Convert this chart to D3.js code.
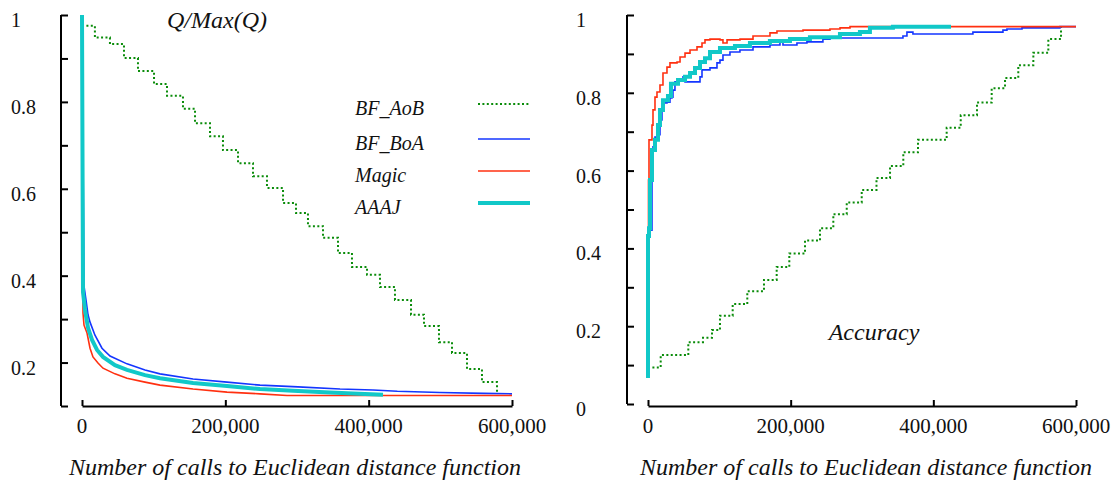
<!DOCTYPE html>
<html>
<head>
<meta charset="utf-8">
<script src="https://cdn.jsdelivr.net/npm/d3@7/dist/d3.min.js"></script>
<style>
  html, body { margin: 0; padding: 0; background: #fff; }
  svg { display: block; }
</style>
</head>
<body>
<svg id="chart" width="1119" height="484"></svg>
<script>
// ---- data -------------------------------------------------------------
const seriesNames = ["BF_AoB", "BF_BoA", "Magic", "AAAJ"];

const xTicks = [0, 200000, 400000, 600000];
const xTickLabels = ["0", "200,000", "400,000", "600,000"];

const qTicks = [1, 0.9, 0.8, 0.7, 0.6, 0.5, 0.4, 0.3, 0.2, 0.1];
const qTickLabels = ["1", "", "0.8", "", "0.6", "", "0.4", "", "0.2", ""];

const accTicks = [0, 0.1, 0.2, 0.3, 0.4, 0.5, 0.6, 0.7, 0.8, 0.9, 1];
const accTickLabels = ["0", "", "0.2", "", "0.4", "", "0.6", "", "0.8", "", "1"];

// Q / Max(Q) against number of distance calls (staircase for BF_AoB)
const qAoB = [
  [0, 0.975], [18000, 0.948], [39000, 0.933], [58600, 0.901], [78100, 0.871],
  [100500, 0.841], [118600, 0.814], [140900, 0.784], [157700, 0.751], [178600, 0.721],
  [196700, 0.689], [217700, 0.659], [238600, 0.629], [258100, 0.602], [280500, 0.567],
  [298600, 0.544], [315300, 0.514], [336300, 0.487], [357200, 0.452], [376700, 0.420],
  [397700, 0.402], [415800, 0.374], [436700, 0.344], [459100, 0.310], [477200, 0.284],
  [498100, 0.247], [516300, 0.222], [537200, 0.185], [558100, 0.155], [579100, 0.130]
];
const qBoA = [
  [0, 1], [2800, 0.376], [5600, 0.344], [8400, 0.310], [11200, 0.293], [18100, 0.263],
  [27900, 0.233], [39100, 0.215], [62800, 0.197], [87900, 0.183], [108800, 0.174],
  [154900, 0.162], [202300, 0.155], [248400, 0.148], [301400, 0.144], [360000, 0.139],
  [406000, 0.137], [440000, 0.134], [499500, 0.131], [560000, 0.129], [600000, 0.128]
];
const qMagic = [
  [0, 1], [1400, 0.314], [2800, 0.286], [7000, 0.268], [11200, 0.233], [15300, 0.213],
  [22300, 0.199], [29300, 0.187], [46000, 0.174], [62800, 0.164], [87900, 0.155],
  [108800, 0.148], [154900, 0.139], [202300, 0.132], [248400, 0.128], [286000, 0.124],
  [600000, 0.124]
];
const qAAAJ = [
  [0, 1], [1400, 0.362], [4200, 0.321], [8400, 0.280], [14000, 0.252], [21000, 0.229],
  [29300, 0.213], [46000, 0.194], [62800, 0.183], [87900, 0.171], [108800, 0.164],
  [154900, 0.153], [202300, 0.146], [248400, 0.139], [294400, 0.135], [346000, 0.131],
  [378100, 0.129], [420000, 0.126]
];

// Accuracy against number of distance calls
const accAoB = [
  [0, 0.094], [17800, 0.126], [56500, 0.159], [77100, 0.170], [89700, 0.190],
  [100900, 0.227], [118700, 0.257], [139200, 0.290], [162600, 0.319], [180400, 0.352],
  [198100, 0.387], [220100, 0.420], [241100, 0.452], [259800, 0.488], [278600, 0.518],
  [299600, 0.550], [320300, 0.581], [339300, 0.612], [357900, 0.647], [378500, 0.679],
  [418700, 0.710], [438400, 0.742], [461200, 0.775], [481800, 0.812], [500500, 0.838],
  [519100, 0.871], [540200, 0.903], [561200, 0.938], [579000, 0.969]
];
const accBoA = [
  [0, 0.067], [0, 0.432], [2800, 0.447], [5600, 0.550], [5600, 0.653], [7000, 0.661],
  [9800, 0.686], [14000, 0.692], [16800, 0.730], [19600, 0.774], [26600, 0.776],
  [30800, 0.787], [33600, 0.789], [35000, 0.807], [37800, 0.828], [42100, 0.833],
  [49100, 0.841], [51900, 0.828], [68700, 0.828], [72900, 0.841], [75700, 0.859],
  [86900, 0.864], [96700, 0.877], [100900, 0.884], [105100, 0.897], [114900, 0.905],
  [128900, 0.910], [147200, 0.918], [171000, 0.923], [185000, 0.931], [189200, 0.923],
  [208800, 0.928], [222800, 0.931], [245200, 0.938], [255100, 0.941], [297100, 0.941],
  [357400, 0.946], [363000, 0.956], [370000, 0.956], [371400, 0.951], [448500, 0.951],
  [455500, 0.956], [497600, 0.961], [503200, 0.964], [524300, 0.967], [538300, 0.967],
  [577500, 0.970], [600000, 0.970]
];
const accMagic = [
  [0, 0.067], [0, 0.440], [700, 0.576], [1400, 0.679], [5600, 0.717], [7000, 0.756],
  [9800, 0.789], [12600, 0.802], [16800, 0.820], [21000, 0.851], [26600, 0.866],
  [30800, 0.877], [40700, 0.879], [44900, 0.892], [51900, 0.902], [58900, 0.910],
  [68700, 0.918], [75700, 0.928], [79900, 0.936], [86900, 0.938], [100900, 0.936],
  [105100, 0.928], [110800, 0.936], [129000, 0.938], [147200, 0.946], [171000, 0.954],
  [180800, 0.959], [217300, 0.961], [255100, 0.964], [269200, 0.967], [283200, 0.970],
  [600000, 0.970]
];
const accAAAJ = [
  [0, 0.067], [0, 0.432], [1400, 0.452], [2800, 0.576], [5600, 0.653], [9800, 0.679],
  [14000, 0.717], [16800, 0.756], [21000, 0.781], [28000, 0.792], [32200, 0.823],
  [42100, 0.833], [51900, 0.841], [58900, 0.851], [65900, 0.864], [72900, 0.879],
  [79900, 0.889], [86900, 0.905], [100900, 0.915], [121900, 0.920], [142900, 0.928],
  [170900, 0.933], [199000, 0.938], [227000, 0.943], [269100, 0.951], [297100, 0.956],
  [311100, 0.967], [343300, 0.970], [424800, 0.970]
];

// ---- styles -------------------------------------------------------------
const SERIF = '"Liberation Serif"';
const seriesStyle = {
  "BF_AoB": { color: "#0a8c0a", width: 2,   dash: "2,2.4" },
  "BF_BoA": { color: "#1436ff", width: 1.6, dash: null },
  "Magic":  { color: "#ff3010", width: 1.6, dash: null },
  "AAAJ":   { color: "#11c8c8", width: 4,   dash: null }
};

const svg = d3.select("#chart");
const FONT_YTICK = 20;
const FONT_XTICK = 21;
const FONT_TITLE = 24;

function label(sel) {
  return sel.attr("font-family", "Liberation Serif").style("font-family", SERIF).attr("fill", "#111");
}

function drawPanel(cfg) {
  const x = d3.scaleLinear().domain([0, 600000]).range(cfg.xRange);
  const y = d3.scaleLinear().domain(cfg.yDomain).range(cfg.yRange);
  const g = svg.append("g");

  // y axis: line with inward ticks, labels set off to the left
  const yAxis = d3.axisLeft(y).tickValues(cfg.yTicks).tickSizeInner(-7).tickSizeOuter(0).tickFormat("");
  const ya = g.append("g").attr("transform", `translate(${cfg.yAxisX},0)`).call(yAxis);
  ya.select(".domain").attr("stroke", "#000").attr("stroke-width", 2)
    .attr("d", `M0,${cfg.yRange[1]}V${cfg.yRange[0]}`);
  ya.selectAll(".tick line").attr("stroke", "#000").attr("stroke-width", 2);

  label(g.selectAll(".ylab").data(cfg.yTicks.map((t, i) => [t, cfg.yLabels[i]]).filter(d => d[1] !== ""))
    .enter().append("text")
    .attr("x", cfg.yLabelX).attr("y", d => y(d[0]) + 12)
    .attr("font-size", FONT_YTICK).attr("text-anchor", "start")
    .text(d => d[1]));

  // x axis: detached line with upward ticks
  const xAxis = d3.axisBottom(x).tickValues(xTicks).tickSizeInner(-6).tickSizeOuter(0).tickFormat("");
  const xa = g.append("g").attr("transform", `translate(0,${cfg.xAxisY})`).call(xAxis);
  xa.select(".domain").attr("stroke", "#000").attr("stroke-width", 2);
  xa.selectAll(".tick line").attr("stroke", "#000").attr("stroke-width", 2);

  label(g.selectAll(".xlab").data(xTicks.map((t, i) => [t, xTickLabels[i]]))
    .enter().append("text")
    .attr("x", d => x(d[0])).attr("y", cfg.xAxisY + 27)
    .attr("font-size", FONT_XTICK).attr("text-anchor", "middle")
    .text(d => d[1]));

  // axis caption
  label(g.append("text")
    .attr("x", (cfg.xRange[0] + cfg.xRange[1]) / 2 + cfg.captionShift).attr("y", 475)
    .attr("font-size", 24).attr("font-style", "italic").attr("text-anchor", "middle")
    .text("Number of calls to Euclidean distance function"));

  // panel title
  label(g.append("text")
    .attr("x", cfg.titleX).attr("y", cfg.titleY)
    .attr("font-size", FONT_TITLE).attr("font-style", "italic").attr("text-anchor", "middle")
    .text(cfg.title));

  // series
  seriesNames.forEach((name, i) => {
    const st = seriesStyle[name];
    const stepped = name === "BF_AoB" || cfg.stepAll;
    const line = d3.line().x(d => x(d[0])).y(d => y(d[1]))
      .curve(stepped ? d3.curveStepAfter : d3.curveLinear);
    g.append("path").datum(cfg.series[i])
      .attr("fill", "none").attr("stroke", st.color).attr("stroke-width", st.width)
      .attr("stroke-dasharray", st.dash).attr("stroke-linejoin", "miter")
      .attr("d", line);
  });
}

drawPanel({
  xRange: [82, 512], yDomain: [0.1, 1], yRange: [406, 15],
  yAxisX: 61, yLabelX: 11, xAxisY: 406,
  yTicks: qTicks, yLabels: qTickLabels,
  title: "Q/Max(Q)", titleX: 217, titleY: 28, captionShift: -2, stepAll: false,
  series: [qAoB, qBoA, qMagic, qAAAJ]
});

drawPanel({
  xRange: [648, 1076], yDomain: [0, 1], yRange: [404, 15],
  yAxisX: 627, yLabelX: 576, xAxisY: 406,
  yTicks: accTicks, yLabels: accTickLabels,
  title: "Accuracy", titleX: 874, titleY: 340, captionShift: 4, stepAll: true,
  series: [accAoB, accBoA, accMagic, accAAAJ]
});

// legend
const legendY = [104, 139, 171, 203];
const legend = svg.append("g");
seriesNames.forEach((name, i) => {
  const st = seriesStyle[name];
  label(legend.append("text")
    .attr("x", 355).attr("y", legendY[i] + 11)
    .attr("font-size", 20).attr("font-style", "italic")
    .text(name));
  legend.append("line")
    .attr("x1", 478).attr("x2", 530).attr("y1", legendY[i]).attr("y2", legendY[i])
    .attr("stroke", st.color).attr("stroke-width", st.width)
    .attr("stroke-dasharray", st.dash);
});
</script>
</body>
</html>
